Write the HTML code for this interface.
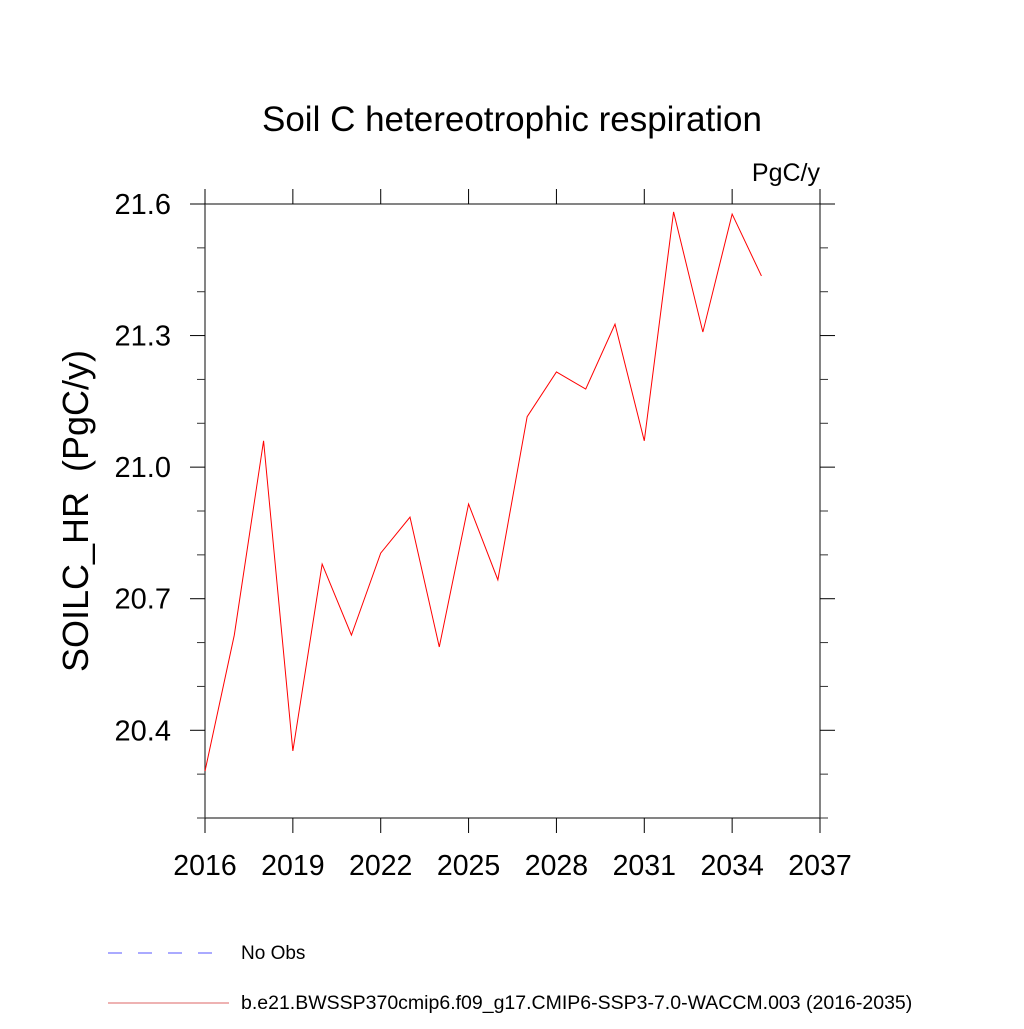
<!DOCTYPE html>
<html><head><meta charset="utf-8"><style>
body{margin:0;background:#fff}
svg text{font-family:"Liberation Sans",sans-serif;fill:#000}
</style></head><body>
<svg width="1024" height="1024" xmlns="http://www.w3.org/2000/svg">
<rect width="1024" height="1024" fill="#fff"/>
<text x="512" y="131" font-size="35" text-anchor="middle">Soil C hetereotrophic respiration</text>
<text x="820" y="181" font-size="25" text-anchor="end">PgC/y</text>
<text transform="translate(88,511) rotate(-90)" font-size="36" text-anchor="middle" style="white-space:pre" xml:space="preserve">SOILC_HR  (PgC/y)</text>
<g id="axes"></g>
<g id="series"></g>
<line x1="108" y1="953" x2="218" y2="953" stroke="#5555ff" stroke-width="1" stroke-dasharray="14,16"/>
<text x="241" y="959" font-size="19">No Obs</text>
<line x1="108" y1="1003" x2="229" y2="1003" stroke="#d66" stroke-width="1"/>
<text x="241" y="1009" font-size="19.5">b.e21.BWSSP370cmip6.f09_g17.CMIP6-SSP3-7.0-WACCM.003 (2016-2035)</text>
</svg>
<script>
const years=[2016,2017,2018,2019,2020,2021,2022,2023,2024,2025,2026,2027,2028,2029,2030,2031,2032,2033,2034,2035];
const values=[20.307,20.617,21.06,20.353,20.779,20.617,20.804,20.886,20.590,20.916,20.743,21.115,21.217,21.178,21.326,21.06,21.582,21.308,21.577,21.436];
const xTicks=[2016,2019,2022,2025,2028,2031,2034,2037];
const yTicks=[20.4,20.7,21.0,21.3,21.6];
const yMinor=[20.2,20.3,20.5,20.6,20.8,20.9,21.1,21.2,21.4,21.5];
const X0=205,X1=820,Y0=818,Y1=204;
const xs=v=>X0+(v-2016)/(2037-2016)*(X1-X0);
const ys=v=>Y0-(v-20.2)/(21.6-20.2)*(Y0-Y1);
const NS='http://www.w3.org/2000/svg';
const ax=document.getElementById('axes');
function mk(p,t,a){const e=document.createElementNS(NS,t);for(const k in a)e.setAttribute(k,a[k]);p.appendChild(e);return e;}
const frame=mk(ax,'rect',{x:X0,y:Y1,width:X1-X0,height:Y0-Y1,fill:'none',stroke:'#333','stroke-width':1.2});


xTicks.forEach(t=>{const x=xs(t);
 mk(ax,'line',{x1:x,y1:Y0,x2:x,y2:Y0+15,stroke:'#000'});
 mk(ax,'line',{x1:x,y1:Y1,x2:x,y2:Y1-15,stroke:'#000'});
 const tx=mk(ax,'text',{x:x,y:Y0+57,'font-size':28.5,'text-anchor':'middle'});tx.textContent=t;
 
 
});
yTicks.forEach(t=>{const y=ys(t);
 mk(ax,'line',{x1:X0,y1:y,x2:X0-15,y2:y,stroke:'#000'});
 mk(ax,'line',{x1:X1,y1:y,x2:X1+15,y2:y,stroke:'#000'});
 const tx=mk(ax,'text',{x:171,y:y+10,'font-size':29,'text-anchor':'end'});tx.textContent=t.toFixed(1);
 
 
});
yMinor.forEach(t=>{const y=ys(t);
 mk(ax,'line',{x1:X0,y1:y,x2:X0-8,y2:y,stroke:'#333'});
 mk(ax,'line',{x1:X1,y1:y,x2:X1+8,y2:y,stroke:'#333'});
});
const pl=mk(document.getElementById('series'),'polyline',{points:years.map((y,i)=>xs(y)+','+ys(values[i])).join(' '),fill:'none',stroke:'#f00','stroke-width':1});


</script>
</body></html>
